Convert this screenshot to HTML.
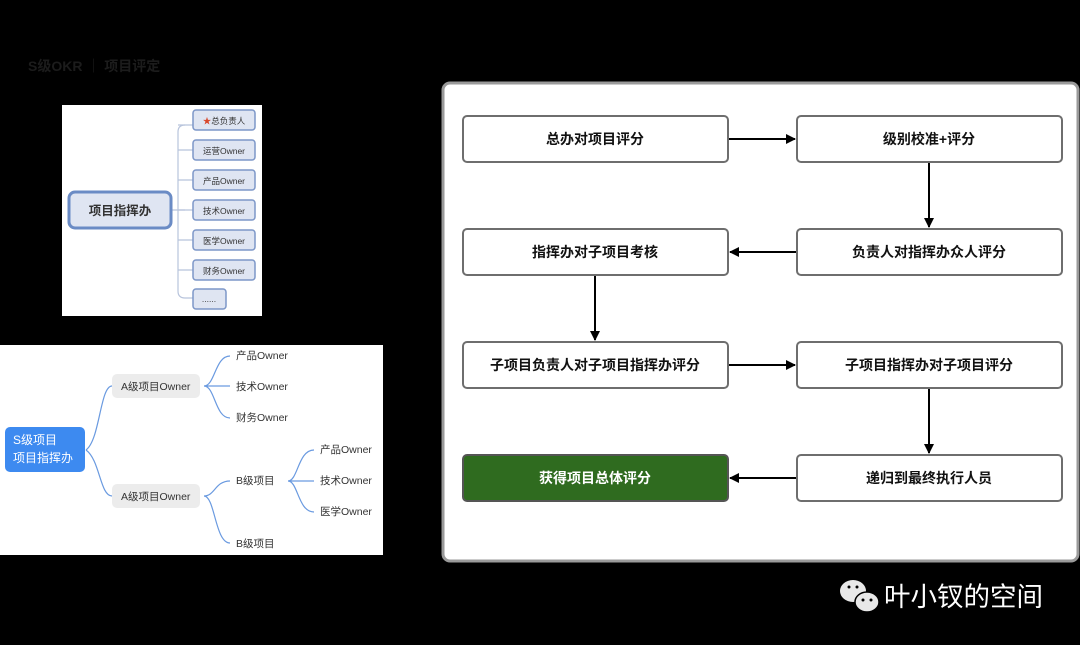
<!DOCTYPE html><html><head><meta charset="utf-8"><style>body{margin:0;background:#000;width:1080px;height:645px;overflow:hidden}svg{display:block}text{font-family:"Liberation Sans","Noto Sans CJK SC",sans-serif}</style></head><body>
<svg width="1080" height="645" viewBox="0 0 1080 645">
<defs><marker id="a" markerWidth="10" markerHeight="10" refX="9" refY="5" orient="auto" markerUnits="userSpaceOnUse"><path d="M0,0 L10,5 L0,10 z" fill="#000"/></marker></defs>
<rect width="1080" height="645" fill="#000"/>
<text x="28" y="71" font-size="14" fill="#1c1c1c" font-weight="bold">S级OKR ｜ 项目评定</text>
<rect x="62" y="105" width="200" height="211" fill="#fff"/>
<g stroke="#b8c4dc" fill="none" stroke-width="1.2"><path d="M172,210 H185 M185,125 Q178,125 178,132 V291 Q178,298 185,298 H193"/><path d="M178,125 H193 M178,150 H193 M178,180 H193 M178,210 H193 M178,240 H193 M178,270 H193"/></g>
<rect x="69" y="192" width="102" height="36" rx="6" fill="#dfe5f2" stroke="#6a8bc5" stroke-width="3"/>
<text x="120" y="215" font-size="12.5" text-anchor="middle" fill="#333" font-weight="bold">项目指挥办</text>
<g fill="#dfe5f2" stroke="#7d97c8" stroke-width="1.5">
<rect x="193" y="110" width="62" height="20" rx="3"/><rect x="193" y="140" width="62" height="20" rx="3"/><rect x="193" y="170" width="62" height="20" rx="3"/><rect x="193" y="200" width="62" height="20" rx="3"/><rect x="193" y="230" width="62" height="20" rx="3"/><rect x="193" y="260" width="62" height="20" rx="3"/><rect x="193" y="289" width="33" height="20" rx="3"/></g>
<g font-size="8.5" fill="#333" text-anchor="middle"><text x="224" y="124"><tspan fill="#d9472b">★</tspan>总负责人</text><text x="224" y="154">运营Owner</text><text x="224" y="184">产品Owner</text><text x="224" y="214">技术Owner</text><text x="224" y="244">医学Owner</text><text x="224" y="274">财务Owner</text><text x="209" y="302">......</text></g>
<rect x="0" y="345" width="383" height="210" fill="#fff"/>
<g stroke="#6a9ae0" fill="none" stroke-width="1.2">
<path d="M86,450 C100,440 100,386 112,386 M86,450 C100,460 100,496 112,496"/>
<path d="M204,386 C215,386 215,356 230,356 M204,386 H230 M204,386 C215,386 215,418 230,418"/>
<path d="M204,496 C215,496 215,481 230,481 M204,496 C215,496 215,543 230,543"/>
<path d="M288,481 C298,481 298,450 314,450 M288,481 H314 M288,481 C298,481 298,512 314,512"/>
</g>
<rect x="5" y="427" width="80" height="45" rx="5" fill="#3d8af0"/>
<text x="13" y="444" font-size="12" fill="#fff">S级项目</text><text x="13" y="462" font-size="12" fill="#fff">项目指挥办</text>
<rect x="112" y="374" width="88" height="24" rx="5" fill="#ececec"/><rect x="112" y="484" width="88" height="24" rx="5" fill="#ececec"/>
<g font-size="10.5" fill="#333"><text x="121" y="390">A级项目Owner</text><text x="121" y="500">A级项目Owner</text>
<text x="236" y="359">产品Owner</text><text x="236" y="390">技术Owner</text><text x="236" y="421">财务Owner</text>
<text x="236" y="484">B级项目</text><text x="236" y="547">B级项目</text>
<text x="320" y="453">产品Owner</text><text x="320" y="484">技术Owner</text><text x="320" y="515">医学Owner</text></g>
<rect x="443" y="83" width="635" height="478" rx="7" fill="#fff" stroke="#9a9a9a" stroke-width="3"/>
<g fill="#fff" stroke="#6e6e6e" stroke-width="2">
<rect x="463" y="116" width="265" height="46" rx="4"/><rect x="797" y="116" width="265" height="46" rx="4"/>
<rect x="463" y="229" width="265" height="46" rx="4"/><rect x="797" y="229" width="265" height="46" rx="4"/>
<rect x="463" y="342" width="265" height="46" rx="4"/><rect x="797" y="342" width="265" height="46" rx="4"/>
<rect x="463" y="455" width="265" height="46" rx="4" fill="#2f6b1f" stroke="#555"/><rect x="797" y="455" width="265" height="46" rx="4"/></g>
<g font-size="14" font-weight="bold" text-anchor="middle" fill="#111">
<text x="595" y="144">总办对项目评分</text><text x="929" y="144">级别校准+评分</text>
<text x="595" y="257">指挥办对子项目考核</text><text x="929" y="257">负责人对指挥办众人评分</text>
<text x="595" y="370">子项目负责人对子项目指挥办评分</text><text x="929" y="370">子项目指挥办对子项目评分</text>
<text x="595" y="483" fill="#fff">获得项目总体评分</text><text x="929" y="483">递归到最终执行人员</text></g>
<g stroke="#000" stroke-width="2" marker-end="url(#a)">
<line x1="729" y1="139" x2="795" y2="139"/><line x1="929" y1="163" x2="929" y2="227"/>
<line x1="796" y1="252" x2="730" y2="252"/><line x1="595" y1="276" x2="595" y2="340"/>
<line x1="729" y1="365" x2="795" y2="365"/><line x1="929" y1="389" x2="929" y2="453"/>
<line x1="796" y1="478" x2="730" y2="478"/></g>
<ellipse cx="853" cy="591" rx="13" ry="11" fill="#e8e8e8"/><ellipse cx="867" cy="602" rx="12" ry="10" fill="#e8e8e8" stroke="#000" stroke-width="1.5"/>
<circle cx="849" cy="587" r="1.5" fill="#000"/><circle cx="857" cy="587" r="1.5" fill="#000"/><circle cx="863" cy="600" r="1.5" fill="#000"/><circle cx="871" cy="600" r="1.5" fill="#000"/>
<text x="884" y="606" font-size="26.5" fill="#fff">叶小钗的空间</text>
</svg></body></html>
